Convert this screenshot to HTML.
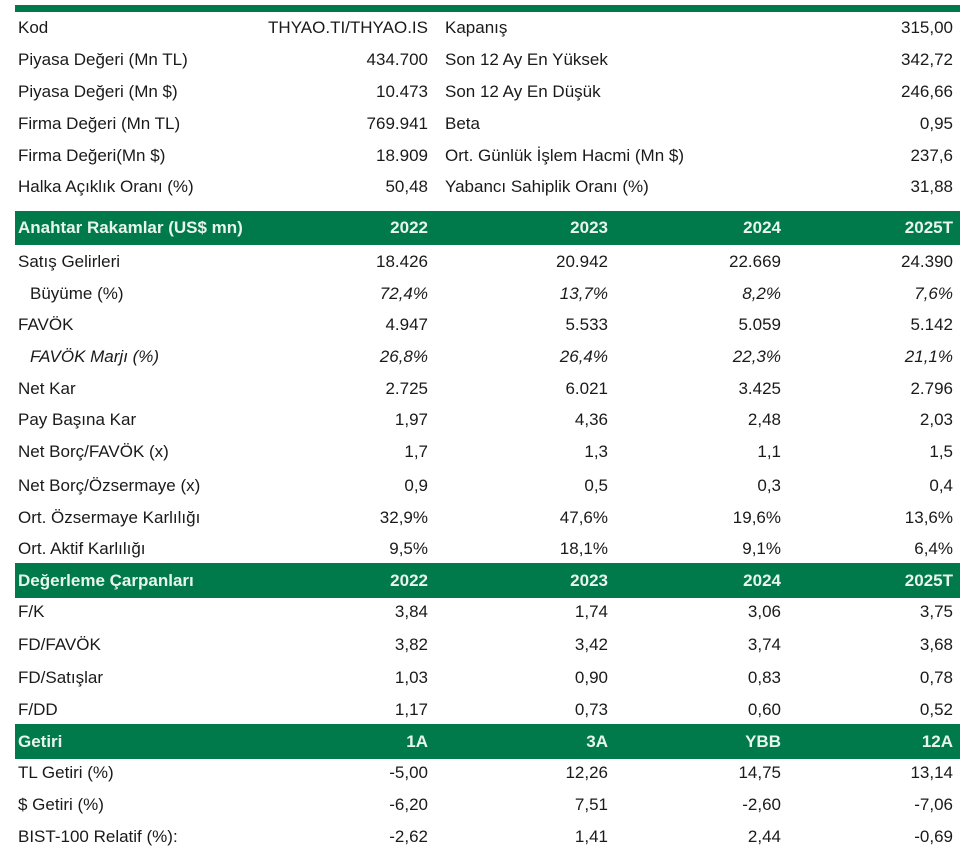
<!DOCTYPE html>
<html><head><meta charset="utf-8"><style>
body{margin:0;width:960px;height:858px;background:#fff;position:relative;overflow:hidden;font-family:"Liberation Sans",sans-serif;font-size:17px;color:#1a1a1a}
.r{position:absolute;left:0;width:960px;height:22px;line-height:22px}
.r span{position:absolute;white-space:nowrap}
.l{left:18px}.l2{left:445px}
.a{right:532px}.b{right:352px}.c{right:179px}.d{right:7px}
.h{background:#007a4a;color:#e8f5ec;font-weight:bold;height:34px;line-height:34px;left:15px;width:945px}
.h .l{left:3px}
.i{font-style:italic}
</style></head><body>
<div style="position:absolute;left:15px;top:5px;width:945px;height:7px;background:#007a4a"></div>

<div class="r" style="top:17px"><span class="l">Kod</span><span class="a">THYAO.TI/THYAO.IS</span><span class="l2">Kapanış</span><span class="d">315,00</span></div>
<div class="r" style="top:49px"><span class="l">Piyasa Değeri (Mn TL)</span><span class="a">434.700</span><span class="l2">Son 12 Ay En Yüksek</span><span class="d">342,72</span></div>
<div class="r" style="top:81px"><span class="l">Piyasa Değeri (Mn $)</span><span class="a">10.473</span><span class="l2">Son 12 Ay En Düşük</span><span class="d">246,66</span></div>
<div class="r" style="top:113px"><span class="l">Firma Değeri (Mn TL)</span><span class="a">769.941</span><span class="l2">Beta</span><span class="d">0,95</span></div>
<div class="r" style="top:145px"><span class="l">Firma Değeri(Mn $)</span><span class="a">18.909</span><span class="l2">Ort. Günlük İşlem Hacmi (Mn $)</span><span class="d">237,6</span></div>
<div class="r" style="top:176px"><span class="l">Halka Açıklık Oranı (%)</span><span class="a">50,48</span><span class="l2">Yabancı Sahiplik Oranı (%)</span><span class="d">31,88</span></div>

<div class="r h" style="top:211px"><span class="l">Anahtar Rakamlar (US$ mn)</span><span class="a">2022</span><span class="b">2023</span><span class="c">2024</span><span class="d">2025T</span></div>
<div class="r" style="top:251px"><span class="l">Satış Gelirleri</span><span class="a">18.426</span><span class="b">20.942</span><span class="c">22.669</span><span class="d">24.390</span></div>
<div class="r i" style="top:283px"><span class="l" style="left:30px;font-style:normal">Büyüme (%)</span><span class="a">72,4%</span><span class="b">13,7%</span><span class="c">8,2%</span><span class="d">7,6%</span></div>
<div class="r" style="top:314px"><span class="l">FAVÖK</span><span class="a">4.947</span><span class="b">5.533</span><span class="c">5.059</span><span class="d">5.142</span></div>
<div class="r i" style="top:346px"><span class="l" style="left:30px">FAVÖK Marjı (%)</span><span class="a">26,8%</span><span class="b">26,4%</span><span class="c">22,3%</span><span class="d">21,1%</span></div>
<div class="r" style="top:378px"><span class="l">Net Kar</span><span class="a">2.725</span><span class="b">6.021</span><span class="c">3.425</span><span class="d">2.796</span></div>
<div class="r" style="top:409px"><span class="l">Pay Başına Kar</span><span class="a">1,97</span><span class="b">4,36</span><span class="c">2,48</span><span class="d">2,03</span></div>
<div class="r" style="top:441px"><span class="l">Net Borç/FAVÖK (x)</span><span class="a">1,7</span><span class="b">1,3</span><span class="c">1,1</span><span class="d">1,5</span></div>
<div class="r" style="top:475px"><span class="l">Net Borç/Özsermaye (x)</span><span class="a">0,9</span><span class="b">0,5</span><span class="c">0,3</span><span class="d">0,4</span></div>
<div class="r" style="top:507px"><span class="l">Ort. Özsermaye Karlılığı</span><span class="a">32,9%</span><span class="b">47,6%</span><span class="c">19,6%</span><span class="d">13,6%</span></div>
<div class="r" style="top:538px"><span class="l">Ort. Aktif Karlılığı</span><span class="a">9,5%</span><span class="b">18,1%</span><span class="c">9,1%</span><span class="d">6,4%</span></div>

<div class="r h" style="top:563px;height:35px;line-height:35px"><span class="l">Değerleme Çarpanları</span><span class="a">2022</span><span class="b">2023</span><span class="c">2024</span><span class="d">2025T</span></div>
<div class="r" style="top:601px"><span class="l">F/K</span><span class="a">3,84</span><span class="b">1,74</span><span class="c">3,06</span><span class="d">3,75</span></div>
<div class="r" style="top:634px"><span class="l">FD/FAVÖK</span><span class="a">3,82</span><span class="b">3,42</span><span class="c">3,74</span><span class="d">3,68</span></div>
<div class="r" style="top:667px"><span class="l">FD/Satışlar</span><span class="a">1,03</span><span class="b">0,90</span><span class="c">0,83</span><span class="d">0,78</span></div>
<div class="r" style="top:699px"><span class="l">F/DD</span><span class="a">1,17</span><span class="b">0,73</span><span class="c">0,60</span><span class="d">0,52</span></div>

<div class="r h" style="top:724px;height:35px;line-height:35px"><span class="l">Getiri</span><span class="a">1A</span><span class="b">3A</span><span class="c">YBB</span><span class="d">12A</span></div>
<div class="r" style="top:762px"><span class="l">TL Getiri (%)</span><span class="a">-5,00</span><span class="b">12,26</span><span class="c">14,75</span><span class="d">13,14</span></div>
<div class="r" style="top:794px"><span class="l">$ Getiri (%)</span><span class="a">-6,20</span><span class="b">7,51</span><span class="c">-2,60</span><span class="d">-7,06</span></div>
<div class="r" style="top:826px"><span class="l">BIST-100 Relatif (%):</span><span class="a">-2,62</span><span class="b">1,41</span><span class="c">2,44</span><span class="d">-0,69</span></div>
</body></html>
